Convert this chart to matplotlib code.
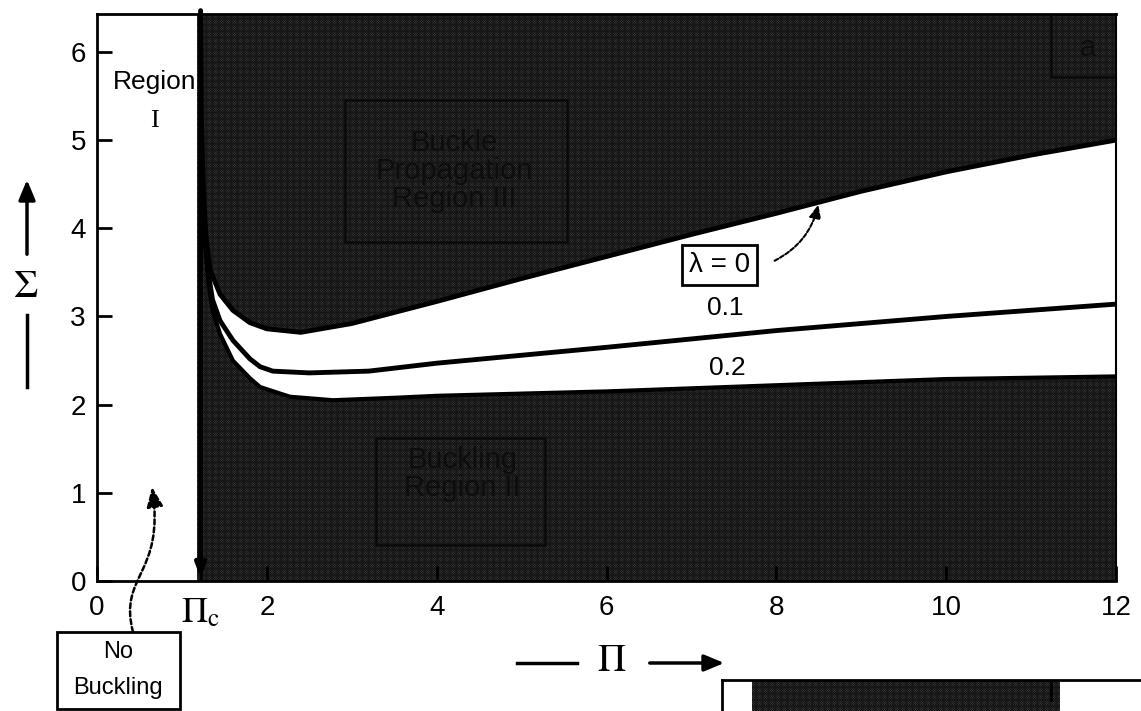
import numpy as np
import matplotlib
matplotlib.use('Agg')
import matplotlib.pyplot as plt
from matplotlib.patches import Rectangle, Polygon, FancyArrowPatch
from matplotlib.path import Path

plt.rcParams['font.family'] = ['Liberation Sans', 'DejaVu Sans']
plt.rcParams['mathtext.fontset'] = 'stix'
plt.rcParams['hatch.linewidth'] = 0.6

# ---- data ----
pi_c = 1.22

# lambda = 0 (upper boundary of region III)
pi_l0 = [1.22, 1.23, 1.25, 1.28, 1.33, 1.45, 1.6, 1.8, 2.0, 2.4, 3.0, 3.56,
         4.0, 5.0, 6.0, 7.0, 8.0, 9.0, 10.0, 11.0, 12.0]
sig_l0 = [6.45, 5.2, 4.5, 3.95, 3.53, 3.25, 3.07, 2.93, 2.86, 2.82, 2.92, 3.06,
          3.17, 3.43, 3.68, 3.93, 4.17, 4.42, 4.64, 4.83, 5.0]

# lambda = 0.1
pi_l1 = [1.24, 1.27, 1.31, 1.36, 1.45, 1.6, 1.8, 1.92, 2.07, 2.5, 3.2, 4.0,
         6.0, 8.0, 10.0, 12.0]
sig_l1 = [4.6, 3.95, 3.5, 3.19, 2.95, 2.73, 2.52, 2.43, 2.38, 2.36, 2.38, 2.47,
          2.65, 2.84, 3.0, 3.14]

# lambda = 0.2 (lower boundary, region II)
pi_l2 = [1.24, 1.27, 1.31, 1.36, 1.45, 1.6, 1.8, 1.92, 2.27, 2.78, 3.56, 4.0,
         6.0, 8.0, 10.0, 12.0]
sig_l2 = [4.6, 3.85, 3.4, 3.07, 2.8, 2.5, 2.3, 2.2, 2.09, 2.05, 2.08, 2.1,
          2.15, 2.22, 2.29, 2.32]

xticks = [0, pi_c, 2, 4, 6, 8, 10, 12]
xlabels = ['0', r'$\Pi_\mathrm{c}$', '2', '4', '6', '8', '10', '12']
yticks = [0, 1, 2, 3, 4, 5, 6]

W, H = 1141, 711
DARK = '#474747'
HATCH = '#151515'


def fx(x):
    return x / W


def fy(y):
    return 1 - y / H


fig = plt.figure(figsize=(W / 100, H / 100), dpi=100)
ax = fig.add_axes([fx(97), fy(581), fx(1116) - fx(97), fy(14) - fy(581)])
ax.set_xlim(0, 12)
ax.set_ylim(0, 6.43)

# dark region right of Pi_c
ax.axvspan(1.18, 12, facecolor=DARK, edgecolor=HATCH, hatch='x' * 14, lw=0, zorder=1)

# white band between lambda=0 and lambda=0.2
band = list(zip(pi_l0, sig_l0)) + list(zip(pi_l2[::-1], sig_l2[::-1]))
ax.add_patch(Polygon(band, closed=True, facecolor='white', edgecolor='none', zorder=2))

ax.plot(pi_l0, sig_l0, color='black', lw=3.5, zorder=3, solid_capstyle='butt')
ax.plot(pi_l1, sig_l1, color='black', lw=3.5, zorder=3)
ax.plot(pi_l2, sig_l2, color='black', lw=3.0, zorder=3)

# vertical line at Pi_c with arrow down
ax.annotate('', xy=(pi_c, 0.0), xytext=(pi_c, 6.5),
            arrowprops=dict(arrowstyle='-|>,head_width=0.3,head_length=0.8',
                            color='black', lw=3.5),
            annotation_clip=False, zorder=4)

# boxes and labels inside the plot
ax.add_patch(Rectangle((2.92, 3.84), 2.61, 1.61, fill=False, edgecolor='#0a0a0a', lw=1.8, zorder=3))
ax.text(4.21, 4.65, 'Buckle\nPropagation\nRegion III', ha='center', va='center',
        fontsize=21, color='#0d0d0d', linespacing=1.0, zorder=4)

ax.add_patch(Rectangle((3.28, 0.41), 1.99, 1.21, fill=False, edgecolor='#0a0a0a', lw=1.8, zorder=3))
ax.text(4.3, 1.21, 'Buckling\nRegion II', ha='center', va='center',
        fontsize=21, color='#0d0d0d', linespacing=1.0, zorder=4)

ax.add_patch(Rectangle((11.24, 5.71), 0.76, 0.72, fill=False, edgecolor='#0a0a0a', lw=1.8, zorder=3))
ax.text(11.67, 6.05, 'a', ha='center', va='center', fontsize=21, color='#0d0d0d', zorder=4)

ax.text(0.68, 5.66, 'Region', ha='center', va='center', fontsize=19, zorder=4)
ax.text(0.68, 5.22, 'I', ha='center', va='center', fontsize=19, family='Liberation Serif', zorder=4)

ax.text((719 - 97) / 84.9, (581 - 265) / 88.17, 'λ = 0', ha='center', va='center',
        fontsize=20, zorder=5,
        bbox=dict(boxstyle='square,pad=0.25', facecolor='white', edgecolor='black', lw=2))
ax.annotate('', xy=(8.5, 4.3), xytext=((772 - 97) / 84.9, (581 - 262) / 88.17),
            arrowprops=dict(arrowstyle='-|>,head_width=0.35,head_length=0.8', color='black',
                            lw=1.5, linestyle=(0, (2, 1)), connectionstyle='arc3,rad=0.25'),
            zorder=5)
ax.text((725 - 97) / 84.9, (581 - 308) / 88.17, '0.1', ha='center', va='center', fontsize=19, zorder=5)
ax.text((727 - 97) / 84.9, (581 - 368) / 88.17, '0.2', ha='center', va='center', fontsize=19, zorder=5)

ax.set_xticks(xticks)
ax.set_xticklabels(xlabels)
ax.set_yticks(yticks)
ax.tick_params(direction='in', length=11, width=2, labelsize=20, zorder=6)
ax.tick_params(axis='x', pad=10)
ax.tick_params(axis='y', pad=8)
ax.get_xticklabels()[1].set_fontsize(26)
for s in ax.spines.values():
    s.set_linewidth(2)
    s.set_zorder(6)
ax.spines['right'].set_linewidth(1.5)

# axis labels drawn as arrows
fig.add_artist(plt.Line2D([fx(517), fx(577)], [fy(663), fy(663)], color='black', lw=2.5))
fig.text(fx(612), fy(661), r'$\Pi$', ha='center', va='center', fontsize=28)
fig.add_artist(FancyArrowPatch((fx(647), fy(663)), (fx(727), fy(663)), transform=fig.transFigure,
                               arrowstyle='-|>,head_width=5,head_length=12', color='black', lw=2.5))

fig.add_artist(plt.Line2D([fx(27), fx(27)], [fy(315), fy(387)], color='black', lw=2.5))
fig.text(fx(26), fy(287), r'$\Sigma$', ha='center', va='center', fontsize=28)
fig.add_artist(FancyArrowPatch((fx(27), fy(257)), (fx(27), fy(177)), transform=fig.transFigure,
                               arrowstyle='-|>,head_width=5,head_length=12', color='black', lw=2.5))

# "No Buckling" box and wavy dashed arrow
fig.add_artist(Rectangle((fx(57), fy(709)), fx(180) - fx(57), fy(632) - fy(709),
                         transform=fig.transFigure, fill=False, edgecolor='black', lw=2))
fig.text(fx(118), fy(652), 'No', ha='center', va='center', fontsize=17)
fig.text(fx(118), fy(688), 'Buckling', ha='center', va='center', fontsize=17)
wave = Path([(fx(133), fy(632)), (fx(118), fy(575)), (fx(165), fy(575)), (fx(152), fy(487))],
            [Path.MOVETO, Path.CURVE4, Path.CURVE4, Path.CURVE4])
fig.add_artist(FancyArrowPatch(path=wave, transform=fig.transFigure, color='black', lw=1.8,
                               linestyle=(0, (2, 1.2)),
                               arrowstyle='-|>,head_width=5,head_length=12'))

# fragment of a neighbouring panel at the bottom right
fig.add_artist(Rectangle((fx(752), fy(711)), fx(1060) - fx(752), fy(681) - fy(711),
                         transform=fig.transFigure, facecolor=DARK, edgecolor=HATCH,
                         hatch='x' * 14, lw=0))
fig.add_artist(plt.Line2D([fx(722), fx(1141)], [fy(680), fy(680)], color='black', lw=2))
fig.add_artist(plt.Line2D([fx(722), fx(722)], [fy(680), fy(711)], color='black', lw=2))
fig.add_artist(plt.Line2D([fx(1051), fx(1051)], [fy(683), fy(700)], color='black', lw=2))

fig.savefig('out.png', dpi=100)
